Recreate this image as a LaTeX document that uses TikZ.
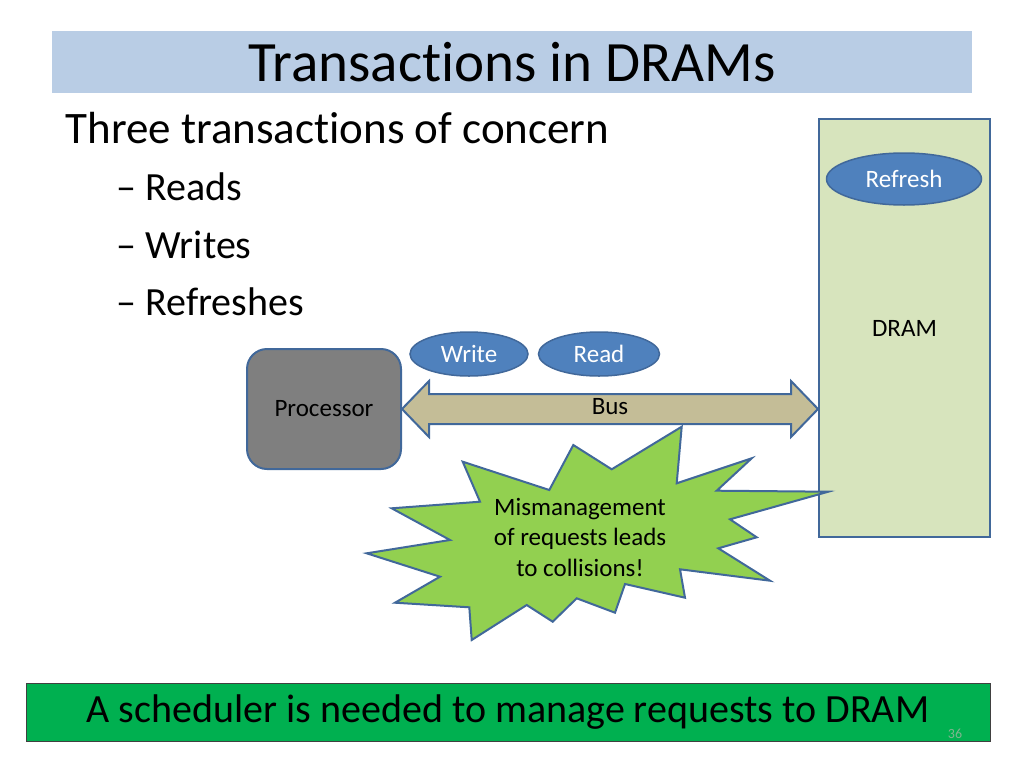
\documentclass[tikz,border=0pt]{standalone}
\usepackage{fontspec}
\setmainfont{Carlito}[Ligatures={NoCommon}]
\usepackage{tikz}
\usetikzlibrary{shapes.geometric, calc, positioning}

\definecolor{titleblue}{HTML}{B9CDE5}
\definecolor{edgeblue}{HTML}{41689A}
\definecolor{bubbleblue}{HTML}{4F81BD}
\definecolor{dramgreen}{HTML}{D7E4BD}
\definecolor{procgray}{HTML}{7F7F7F}
\definecolor{bustan}{HTML}{C4BD97}
\definecolor{stargreen}{HTML}{92D050}
\definecolor{notegreen}{HTML}{00B050}
\definecolor{pagenum}{HTML}{7FB58F}

\tikzset{
  bubble/.style={ellipse, draw=edgeblue, line width=1.5pt, fill=bubbleblue,
    text=white, inner sep=0pt, font=\fontsize{25}{28}\selectfont},
  unit/.style={draw=edgeblue, line width=2pt, inner sep=0pt},
  bullet/.style={anchor=base west, font=\fontsize{40}{48}\selectfont}
}

\begin{document}
\begin{tikzpicture}[x=1pt, y=-1pt]

\useasboundingbox (0,0) rectangle (1024,768);

% Title bar
\node[fill=titleblue, minimum width=920pt, minimum height=62pt,
  font=\fontsize{57}{60}\selectfont] (title) at (512,62) {Transactions in DRAMs};

% Bullet list
\node[anchor=base west, font=\fontsize{45}{50}\selectfont] (head) at (62,143) {Three transactions of concern};
\node[bullet] (reads) at (113,200) {-- Reads};
\node[bullet] (writes) at (113,258) {-- Writes};
\node[bullet] (refreshes) at (113,315) {-- Refreshes};

% Memory and processor
\node[unit, fill=dramgreen, minimum width=171pt, minimum height=418pt,
  font=\fontsize{25}{28}\selectfont] (dram) at (904.5,328) {DRAM};
\node[bubble, minimum width=155pt, minimum height=52pt] (refresh) at (904,179) {Refresh};
\node[unit, fill=procgray, rounded corners=20pt, minimum width=154pt, minimum height=120pt,
  font=\fontsize{25}{28}\selectfont] (proc) at (324,409) {Processor};

% The bus between them
\draw[draw=edgeblue, line width=2pt, fill=bustan, line join=miter]
  (proc.east) -- ++(27,-28) -- ++(0,13)
  -- ($(proc.east -| dram.west)+(-27,-15)$) -- ++(0,-13)
  -- (proc.east -| dram.west) -- ++(-27,28) -- ++(0,-13)
  -- ($(proc.east)+(27,15)$) -- ++(0,13) -- cycle;
\node[font=\fontsize{25}{28}\selectfont] (bus) at (610,407) {Bus};

% Requests on the bus
\node[bubble, minimum width=118pt, minimum height=44pt] (write) at (469,354) {Write};
\node[bubble, minimum width=121pt, minimum height=44pt, right=9pt of write] (read) {Read};

% Collision burst
\draw[draw=edgeblue, line width=2pt, fill=stargreen]
  (681.7,426.7) -- (676.7,483.3) -- (751.7,458.3) -- (716.7,490.7)
  -- (828.3,491.7) -- (730,519.3) -- (756.7,537.3) -- (718.3,548.3)
  -- (770,580.7) -- (680,569.3) -- (685,597.7) -- (625,584)
  -- (615,612.7) -- (576.7,598.3) -- (552.7,621.7) -- (526.7,605)
  -- (471.7,640) -- (469.3,607.3) -- (395,602.7) -- (440,576.7)
  -- (366.7,553.3) -- (450,540) -- (391.7,508.3) -- (480,501.7)
  -- (462.7,461.7) -- (549.3,490) -- (573.3,445) -- (611.7,469.3) -- cycle;
\node[align=center, font=\fontsize{25}{30.5}\selectfont] (clash) at (580,537)
  {Mismanagement\\of requests leads\\to collisions!};

% Conclusion
\node[draw=black!75, line width=1pt, fill=notegreen, minimum width=964pt, minimum height=58pt,
  font=\fontsize{40}{44}\selectfont] (note) at (508,712) {A scheduler is needed to manage requests to DRAM};
\node[text=pagenum, font=\fontsize{14}{16}\selectfont] (page) at (955,734) {36};

\end{tikzpicture}
\end{document}
